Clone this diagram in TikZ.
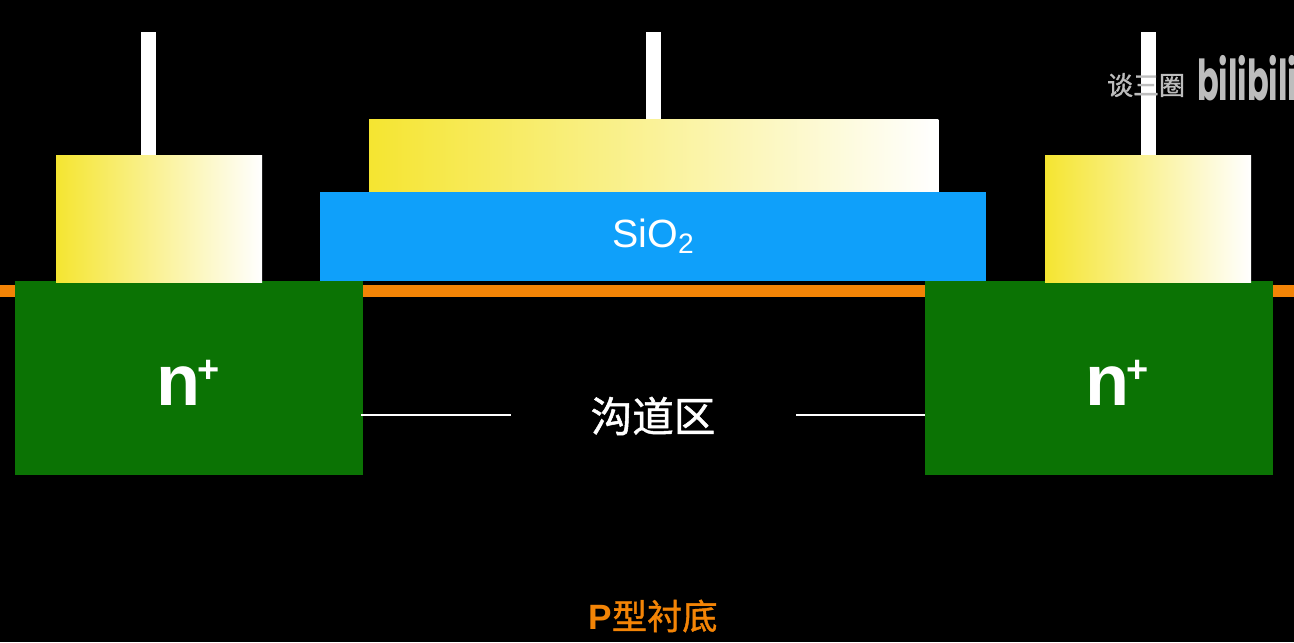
\documentclass[tikz,border=0pt]{standalone}
\usepackage{fontspec}
\setmainfont{Liberation Sans}
\newfontfamily\cjk[FakeBold=1.2]{Noto Sans CJK SC}
\newfontfamily\logofont{Poppins}
\definecolor{gatey}{HTML}{F5E531}
\definecolor{oxide}{HTML}{0FA0FA}
\definecolor{dopeg}{HTML}{0B7304}
\definecolor{subor}{HTML}{F38406}
\definecolor{markg}{HTML}{BDBDBD}
\tikzset{
  every node/.style={inner sep=0pt,outer sep=0pt},
  metal/.style={rectangle,anchor=north west,left color=gatey,right color=white,middle color=gatey!50!white},
  ntype/.style={rectangle,fill=dopeg,anchor=north west,minimum width=3.48cm,minimum height=1.94cm},
  wire/.style={white,line width=0.15cm},
  lead/.style={white,line width=0.4pt}
}
\begin{document}
\begin{tikzpicture}[x=0.01cm,y=-0.01cm]
\useasboundingbox (0,0) rectangle (1294,642);
\fill[black] (0,0) rectangle (1294,642);

% Couche orange
\coordinate (subL) at (0,291);
\coordinate (subR) at (1294,291);
\draw[subor,line width=0.12cm] (subL) -- (subR);

% Zones n+
\node[ntype] (nL) at (15,281) {};
\node[ntype] (nR) at (925,281) {};
\foreach \zone/\xpos in {nL/188.5,nR/1117.5}
{
    \node[text=white,anchor=base,font=\fontsize{20.5pt}{24pt}\selectfont\bfseries] (\zone txt) at (\xpos,405)
    {n\kern-0.85pt\raisebox{6.5pt}{\fontsize{10.8pt}{12pt}\selectfont+}};
}

% Contacts et grille
\node[metal,minimum width=2.06cm,minimum height=1.27cm] (padL) at (56,155) {};
\node[metal,minimum width=2.06cm,minimum height=1.27cm] (padR) at (1045,155) {};
\node[metal,minimum width=5.69cm,minimum height=0.73cm] (gate) at (369,119) {};
\node[rectangle,fill=oxide,anchor=north west,minimum width=6.66cm,minimum height=0.89cm,
  text=white,font=\fontsize{11.2pt}{13pt}\selectfont] (oxide) at (320,192) {SiO\raisebox{-1.7pt}{\fontsize{8pt}{9pt}\selectfont 2}};

% Fils
\foreach \pos/\name/\target in {148.5/topL/padL, 653.5/topM/gate, 1148/topR/padR}
{
    \coordinate (\name) at (\pos,32);
    \draw[wire] (\name) -- (\name |- \target.north);
}

% Canal
\node[text=white,font=\cjk\fontsize{11.8pt}{13pt}\selectfont] (chan) at (653,416) {沟道区};
\coordinate (chanA) at (361,415);
\coordinate (chanL) at (511,415);
\coordinate (chanR) at (796,415);
\draw[lead] (chanA) -- (chanL);
\draw[lead] (chanR) -- (nR.west |- chanR);

\node[text=subor,font=\fontsize{10pt}{12pt}\selectfont] (psub) at (653,616) {\textbf{P}{\cjk 型衬底}};

% Filigrane
\node[text=markg,font=\cjk\fontsize{7.4pt}{9pt}\selectfont] (markcn) at (1146,85) {谈三圈};
\node[text=markg,font=\logofont\bfseries\fontsize{16pt}{18pt}\selectfont,anchor=west] (marklogo) at (1197,78) {\scalebox{0.57}[1]{bilibili}};
\end{tikzpicture}
\end{document}
